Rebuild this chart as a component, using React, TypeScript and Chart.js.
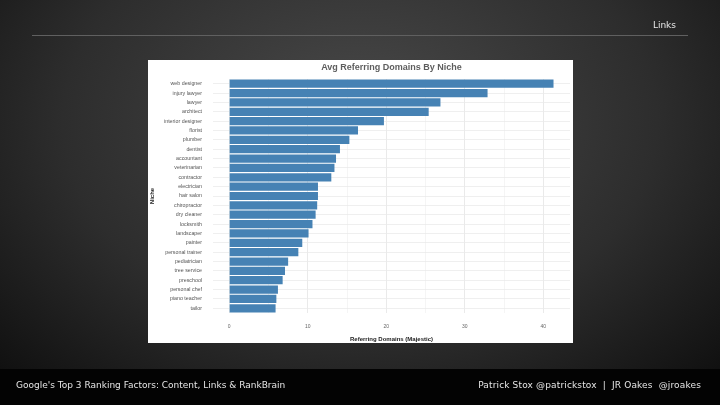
import React, { useEffect, useRef } from "react";
import { Chart, registerables } from "chart.js";

Chart.register(...registerables);

const niches = [
  "web designer", "injury lawyer", "lawyer", "architect", "interior designer",
  "florist", "plumber", "dentist", "accountant", "veterinarian", "contractor",
  "electrician", "hair salon", "chiropractor", "dry cleaner", "locksmith",
  "landscaper", "painter", "personal trainer", "pediatrician", "tree service",
  "preschool", "personal chef", "piano teacher", "tailor",
];
const avgReferringDomains = [
  41.3, 32.9, 26.9, 25.4, 19.7, 16.4, 15.3, 14.1, 13.6, 13.4, 13.0,
  11.3, 11.3, 11.2, 11.0, 10.6, 10.1, 9.3, 8.8, 7.5, 7.1, 6.8, 6.2, 6.0, 5.9,
];
const xGridValues = [0, 5, 10, 15, 20, 25, 30, 35, 40];
const xTickLabels = ["0", "10", "20", "30", "40"];

const chartTitle = "Avg Referring Domains By Niche";
const xTitle = "Referring Domains (Majestic)";
const yTitle = "Niche";

const panelTitlePlugin = {
  id: "panelTitle",
  afterDraw(chart: any) {
    const { ctx, chartArea } = chart;
    ctx.save();
    ctx.font = "bold 9px 'Liberation Sans'";
    ctx.fillStyle = "#5e5e5e";
    ctx.textAlign = "center";
    ctx.textBaseline = "middle";
    ctx.fillText(chartTitle, (chartArea.left + chartArea.right) / 2, 7.5);
    ctx.restore();
  },
};

function NicheChart() {
  const ref = useRef<HTMLCanvasElement>(null);
  useEffect(() => {
    const chart = new Chart(ref.current as HTMLCanvasElement, {
      type: "bar",
      data: {
        labels: niches,
        datasets: [
          {
            data: avgReferringDomains,
            backgroundColor: "#4682b4",
            borderWidth: 0,
            barPercentage: 0.88,
            categoryPercentage: 1,
          },
        ],
      },
      plugins: [panelTitlePlugin],
      options: {
        indexAxis: "y",
        responsive: false,
        animation: false,
        layout: { padding: { left: 0, right: 3, top: 19, bottom: 0 } },
        plugins: {
          legend: { display: false },
          tooltip: { enabled: false },
          title: { display: false },
        },
        scales: {
          x: {
            type: "linear",
            min: -2.07,
            max: 43.4,
            afterBuildTicks: (s: any) => {
              s.ticks = xGridValues.map((v) => ({ value: v }));
            },
            afterFit: (s: any) => {
              s.height = 30;
            },
            grid: {
              color: (ctx: any) =>
                ctx.tick && ctx.tick.value % 10 === 0 ? "#e4e4e4" : "#f2f2f2",
              lineWidth: 0.8,
              drawTicks: false,
            },
            border: { display: false },
            ticks: {
              padding: 11,
              autoSkip: false,
              maxRotation: 0,
              color: "#666",
              font: { family: "Liberation Sans", size: 5 },
              callback: (v: any) => {
                const s = String(v);
                return xTickLabels.includes(s) ? s : "";
              },
            },
            title: {
              display: true,
              text: xTitle,
              color: "#222",
              font: { family: "Liberation Sans", size: 6, weight: "bold", lineHeight: 1.2 },
              padding: { top: 0, bottom: 0 },
            },
          },
          y: {
            afterFit: (s: any) => {
              s.width = 65;
            },
            grid: { offset: false, color: "#ebebeb", lineWidth: 0.8, drawTicks: false },
            border: { display: false },
            ticks: {
              padding: 11,
              autoSkip: false,
              color: "#555",
              font: { family: "Liberation Sans", size: 5.3 },
            },
            title: {
              display: true,
              text: yTitle,
              color: "#222",
              font: { family: "Liberation Sans", size: 6, weight: "bold", lineHeight: 1.2 },
              padding: { top: 1, bottom: 0 },
            },
          },
        },
      } as any,
    });
    return () => chart.destroy();
  }, []);
  return <canvas ref={ref} width={425} height={283} style={{ display: "block" }} />;
}

export default function App() {
  const textFont = "'DejaVu Sans', Verdana, sans-serif";
  return (
    <div
      style={{
        position: "fixed",
        left: 0,
        top: 0,
        width: 720,
        height: 405,
        overflow: "hidden",
        background:
          "radial-gradient(ellipse 75% 95% at 50% 30%, #4a4a4a 0%, #2d2d2d 55%, #0b0b0b 100%)",
      }}
    >
      <div
        style={{
          position: "absolute",
          right: 44,
          top: 20,
          color: "#e8e8e8",
          fontFamily: textFont,
          fontSize: 9,
          whiteSpace: "nowrap",
        }}
      >
        Links
      </div>
      <div
        style={{
          position: "absolute",
          left: 32,
          top: 35,
          width: 656,
          height: 1,
          background: "#606060",
        }}
      />
      <div
        style={{
          position: "absolute",
          left: 148,
          top: 60,
          width: 425,
          height: 283,
          background: "#ffffff",
        }}
      >
        <NicheChart />
      </div>
      <div
        style={{
          position: "absolute",
          left: 0,
          top: 369,
          width: 720,
          height: 36,
          background: "#030303",
        }}
      >
        <div
          style={{
            position: "absolute",
            left: 16,
            top: 11,
            color: "#e6e6e6",
            fontFamily: textFont,
            fontSize: 9,
            whiteSpace: "nowrap",
          }}
        >
          Google's Top 3 Ranking Factors: Content, Links &amp; RankBrain
        </div>
        <div
          style={{
            position: "absolute",
            right: 19,
            top: 11,
            color: "#e6e6e6",
            fontFamily: textFont,
            fontSize: 9,
            letterSpacing: 0.15,
            whiteSpace: "nowrap",
          }}
        >
          Patrick Stox @patrickstox &nbsp;| &nbsp;JR Oakes &nbsp;@jroakes
        </div>
      </div>
    </div>
  );
}
